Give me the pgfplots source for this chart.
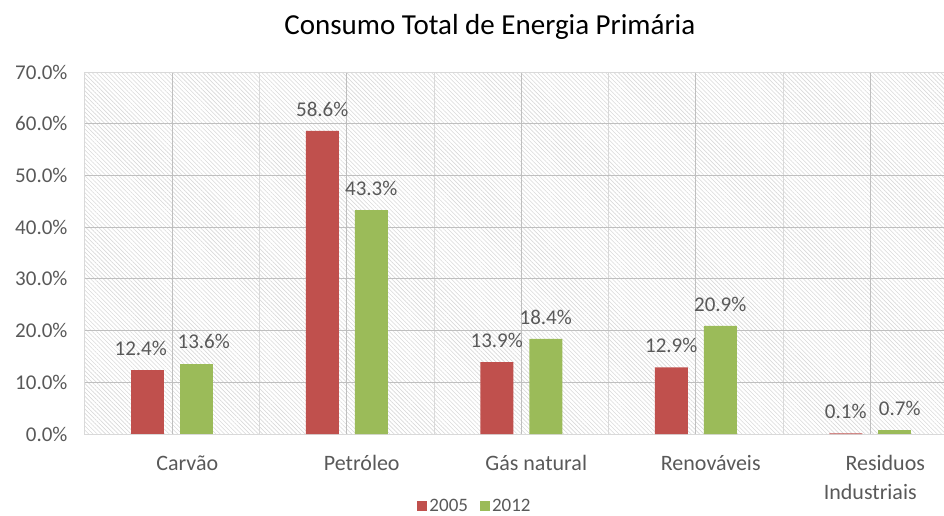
\documentclass[border=0pt]{standalone}
\usepackage{fontspec}
\setmainfont{Carlito}
\usepackage{pgfplots}
\pgfplotsset{compat=1.18}
\usetikzlibrary{patterns.meta}
\definecolor{cred}{HTML}{C0504D}
\definecolor{cgreen}{HTML}{9BBB59}
\definecolor{txt}{HTML}{595959}
\definecolor{grid}{HTML}{D9D9D9}
\begin{document}
\begin{tikzpicture}
\begin{axis}[
  scale only axis,
  width=872.5pt, height=362pt,
  xmin=-0.5, xmax=4.5,
  ymin=0, ymax=70,
  ybar, bar width=33pt,
  xtick={0,1,2,3,4},
  xticklabels={\hspace*{30pt}Carvão,\hspace*{30pt}Petróleo,\hspace*{30pt}Gás natural,\hspace*{30pt}Renováveis,{\hspace*{30pt}Residuos\\Industriais}},
  x tick label style={align=center, font=\fontsize{22}{29}\selectfont, text=txt, yshift=-18pt},
  minor xtick={0.5,1.5,2.5,3.5},
  minor x grid style={grid, line width=1pt},
  xminorgrids=true,
  ytick={0,10,20,30,40,50,60,70},
  ymajorgrids=true,
  major grid style={grid, line width=1pt},
  /pgf/number format/assume math mode=true,
  yticklabel={\pgfmathprintnumber[fixed,fixed zerofill,precision=1]{\tick}\%},
  y tick label style={font=\fontsize{21}{25}\selectfont, text=txt, xshift=-14pt},
  major tick length=0pt, minor tick length=0pt,
  axis line style={grid, line width=1pt},
  axis background/.style={pattern={Lines[angle=-45,distance=3pt,line width=0.6pt]}, pattern color=grid},
  nodes near coords={\pgfmathprintnumber[fixed,fixed zerofill,precision=1]{\pgfplotspointmeta}\%},
  nodes near coords style={font=\fontsize{21}{25}\selectfont, text=txt, yshift=11pt},
  title={Consumo Total de Energia Primária},
  title style={at={(0.464,1.107)}, anchor=center, font=\fontsize{29}{33}\selectfont, text=black},
  legend columns=2,
  legend style={at={(0.447,-0.198)}, anchor=center, draw=none, fill=none,
    font=\fontsize{19}{22}\selectfont, text=txt,
    /tikz/every even column/.append style={column sep=10pt}},
  legend image code/.code={\fill[#1] (0pt,-5pt) rectangle (10pt,5pt);},
]
\addplot[fill=cred, draw=none, bar shift=-24.5pt] coordinates {(1,58.6) (2,13.9) (3,12.9) (4,0.1)};
\addlegendentry{2005}
\addplot[fill=cgreen, draw=none, bar shift=24.5pt] coordinates {(1,43.3) (2,18.4) (3,20.9)};
\addlegendentry{2012}
\addplot[fill=cred, draw=none, bar shift=-24.5pt, forget plot,
  every node near coord/.append style={xshift=-7pt}] coordinates {(0,12.4)};
\addplot[fill=cgreen, draw=none, bar shift=24.5pt, forget plot,
  every node near coord/.append style={xshift=7pt}] coordinates {(0,13.6)};
\addplot[fill=cgreen, draw=none, bar shift=24.5pt, forget plot,
  every node near coord/.append style={xshift=5pt}] coordinates {(4,0.7)};
\end{axis}
\pgfresetboundingbox
\path[use as bounding box] (-85pt,-81pt) rectangle (859pt,434pt);
\end{tikzpicture}
\end{document}
